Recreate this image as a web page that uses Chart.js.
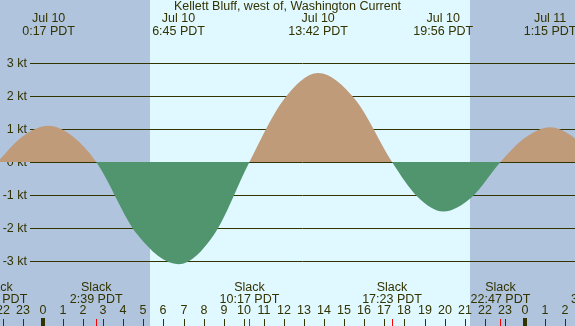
<!DOCTYPE html>
<html>
<head>
<meta charset="utf-8">
<script src="https://cdn.jsdelivr.net/npm/chart.js@4"></script>
<style>
  html, body { margin: 0; padding: 0; background: #e0f8ff; }
  canvas { display: block; }
</style>
</head>
<body>
<canvas id="currentChart" width="575" height="326"></canvas>
<script>
// hours are counted from Jul 10 00:00 PDT
const curveHours = [-2.27, -1.00, 0.28, 1.47, 2.65, 4.70, 6.75, 8.52, 10.28, 12.00, 13.70, 15.54, 17.38, 18.66, 19.93, 21.36, 22.78, 24.02, 25.25, 26.43, 27.60];
const curveKnots = [0, 0.78, 1.1, 0.78, 0, -2.2, -3.1, -2.2, 0, 1.9, 2.7, 1.9, 0, -1.06, -1.5, -1.06, 0, 0.74, 1.05, 0.74, 0];

const peakHours = [0.28, 6.75, 13.70, 19.93, 25.25];
const peakDates = ['Jul 10', 'Jul 10', 'Jul 10', 'Jul 10', 'Jul 11'];
const peakTimes = ['0:17 PDT', '6:45 PDT', '13:42 PDT', '19:56 PDT', '1:15 PDT'];

const slackHours = [-2.27, 2.65, 10.28, 17.38, 22.78, 27.60];
const slackTimes = ['21:44 PDT', '2:39 PDT', '10:17 PDT', '17:23 PDT', '22:47 PDT', '3:36 PDT'];

const hourTicks = [-2, -1, 0, 1, 2, 3, 4, 5, 6, 7, 8, 9, 10, 11, 12, 13, 14, 15, 16, 17, 18, 19, 20, 21, 22, 23, 24, 25, 26];
const hourLabels = ['22', '23', '0', '1', '2', '3', '4', '5', '6', '7', '8', '9', '10', '11', '12', '13', '14', '15', '16', '17', '18', '19', '20', '21', '22', '23', '0', '1', '2'];

const knotTicks = [3, 2, 1, 0, -1, -2, -3];
const knotLabels = ['3 kt', '2 kt', '1 kt', '0 kt', '-1 kt', '-2 kt', '-3 kt'];

const sunrise = 5.33;
const sunset = 21.27;

const ink = '#333300';
const font = '12.5px "Liberation Sans", Arial, sans-serif';

const tidePlugin = {
    id: 'tidePlugin',
    beforeDraw(chart) {
        const c = chart.ctx, x = chart.scales.x;
        const w = chart.width, h = chart.height;
        c.save();
        c.fillStyle = '#e0f8ff';
        c.fillRect(0, 0, w, h);
        c.fillStyle = '#b0c4de';
        const xr = Math.round(x.getPixelForValue(sunrise));
        const xs = Math.round(x.getPixelForValue(sunset));
        c.fillRect(0, 0, xr, h);
        c.fillRect(xs, 0, w - xs, h);
        c.restore();
    },
    beforeDatasetsDraw(chart) {
        const c = chart.ctx, y = chart.scales.y;
        c.save();
        c.strokeStyle = ink;
        c.lineWidth = 1;
        c.fillStyle = ink;
        c.font = font;
        c.textAlign = 'right';
        c.textBaseline = 'middle';
        knotTicks.forEach(function(v, i) {
            const py = Math.round(y.getPixelForValue(v)) + 0.5;
            c.beginPath();
            c.moveTo(30, py);
            c.lineTo(chart.width, py);
            c.stroke();
            c.fillText(knotLabels[i], 27, py);
        });
        c.restore();
    },
    afterDatasetsDraw(chart) {
        const c = chart.ctx, x = chart.scales.x;
        const h = chart.height;
        c.save();
        c.fillStyle = ink;
        c.font = font;
        c.textAlign = 'center';
        c.textBaseline = 'middle';

        c.fillText('Kellett Bluff, west of, Washington Current', chart.width / 2, 7);

        peakHours.forEach(function(t, i) {
            const px = x.getPixelForValue(t);
            c.fillText(peakDates[i], px, 19);
            c.fillText(peakTimes[i], px, 32);
        });

        slackHours.forEach(function(t, i) {
            const px = x.getPixelForValue(t);
            c.fillText('Slack', px, 288);
            c.fillText(slackTimes[i], px, 300);
        });

        hourTicks.forEach(function(t, i) {
            const px = Math.round(x.getPixelForValue(t));
            c.fillText(hourLabels[i], px, 311);
            if (t % 24 === 0) {
                c.fillRect(px - 2, 318, 4, h - 318);
            } else {
                c.fillRect(px, 319, 1, h - 319);
            }
        });

        c.fillStyle = '#ff0000';
        slackHours.forEach(function(t) {
            const px = Math.round(x.getPixelForValue(t));
            c.fillRect(px, 319, 1, h - 319);
        });
        c.restore();
    }
};

const ctx = document.getElementById('currentChart').getContext('2d');
const currentChart = new Chart(ctx, {
    type: 'line',
    data: {
        datasets: [{
            data: curveHours.map(function(t, i) { return { x: t, y: curveKnots[i] }; }),
            borderWidth: 0,
            borderColor: 'rgba(0,0,0,0)',
            pointRadius: 0,
            cubicInterpolationMode: 'monotone',
            fill: {
                target: { value: 0 },
                above: '#bf9b7a',
                below: '#51956f'
            }
        }]
    },
    options: {
        responsive: false,
        animation: false,
        devicePixelRatio: 1,
        layout: { padding: 0 },
        plugins: {
            legend: { display: false },
            tooltip: { enabled: false }
        },
        scales: {
            x: { type: 'linear', display: false, min: -2.14, max: 26.49 },
            y: { type: 'linear', display: false, min: -4.97, max: 4.91 }
        }
    },
    plugins: [tidePlugin]
});
</script>
</body>
</html>
